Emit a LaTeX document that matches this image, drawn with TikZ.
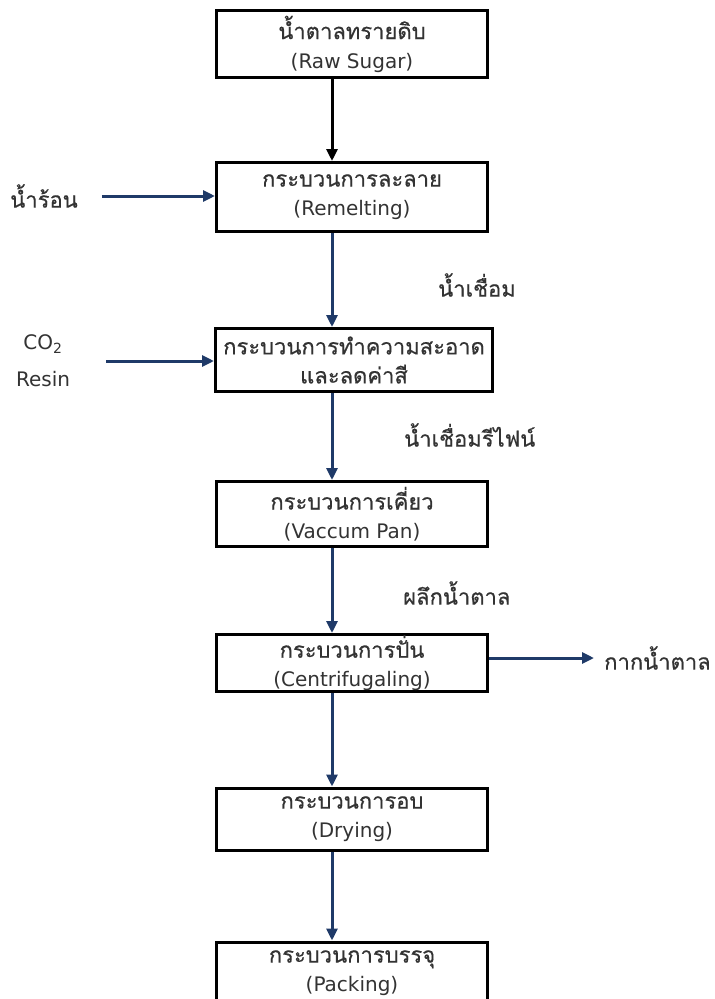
\documentclass[tikz,border=0pt]{standalone}
\usepackage{fontspec}
\setmainfont{DejaVu Sans}
\newfontfamily\thaifont[Script=Thai,Scale=1.1,FakeBold=0.5]{Loma}
\usetikzlibrary{arrows.meta}
\definecolor{navyFlow}{HTML}{1F3A68}
\definecolor{inkText}{HTML}{333333}

\begin{document}
\begin{tikzpicture}[
  x=1pt, y=-1pt,
  font=\fontsize{20}{29}\selectfont,
  every node/.style={text=inkText},
  box/.style={draw=black, line width=3pt, align=center, inner sep=0pt,
              minimum width=271pt, fill=white},
  flow/.style={-{Triangle[length=12pt,width=11pt]}, line width=3pt, draw=navyFlow},
  lbl/.style={align=center, inner sep=0pt},
]
\useasboundingbox (0,0) rectangle (715,999);

% ---------------- NODES (absolute grid) ----------------
\node[box, minimum height=67pt] (RAW) at (352,44)
  {{\thaifont น้ำตาลทรายดิบ}\\(Raw Sugar)};
\node[box, minimum height=69pt] (MELT) at (352,197)
  {{\thaifont กระบวนการละลาย}\\(Remelting)};
\node[box, minimum height=63pt, minimum width=277pt] (CLEAN) at (354,360)
  {{\thaifont กระบวนการทำความสะอาด}\\{\thaifont และลดค่าสี}};
\node[box, minimum height=65pt] (PAN) at (352,514)
  {{\thaifont กระบวนการเคี่ยว}\\(Vaccum Pan)};
\node[box, minimum height=57pt] (SPIN) at (352,663)
  {{\thaifont กระบวนการปั่น}\\(Centrifugaling)};
\node[box, minimum height=62pt] (DRY) at (352,819)
  {{\thaifont กระบวนการอบ}\\(Drying)};
\node[box, minimum height=62pt] (PACK) at (352,973)
  {{\thaifont กระบวนการบรรจุ}\\(Packing)};

% side inputs / outputs
\node[lbl] (WATER) at (44,196) {\thaifont น้ำร้อน};
\node[lbl] (AGENTS) at (43,361) {CO\textsubscript{2}\\[8pt]Resin};
\node[lbl, anchor=west] (MOLASSES) at (604,658) {\thaifont กากน้ำตาล};

% stream labels
\node[lbl, anchor=west] (SYRUP) at (438,285) {\thaifont น้ำเชื่อม};
\node[lbl, anchor=west] (FINE) at (404,435) {\thaifont น้ำเชื่อมรีไฟน์};
\node[lbl, anchor=west] (CRYSTAL) at (403,593) {\thaifont ผลึกน้ำตาล};

% ---------------- EDGES ----------------
\coordinate (spine) at (332,0);
\draw[flow, draw=black] (RAW.south -| spine) -- (MELT.north -| spine);
\draw[flow] (MELT.south -| spine) -- (CLEAN.north -| spine);
\draw[flow] (CLEAN.south -| spine) -- (PAN.north -| spine);
\draw[flow] (PAN.south -| spine) -- (SPIN.north -| spine);
\draw[flow] (SPIN.south -| spine) -- (DRY.north -| spine);
\draw[flow] (DRY.south -| spine) -- (PACK.north -| spine);
\draw[flow] ([xshift=24pt]WATER.east) -- (WATER.east -| MELT.west);
\draw[flow] ([xshift=36pt]AGENTS.east) -- (AGENTS.east -| CLEAN.west);
\draw[flow] (SPIN.east |- MOLASSES.west) -- ([xshift=-10pt]MOLASSES.west);
\end{tikzpicture}
\end{document}
